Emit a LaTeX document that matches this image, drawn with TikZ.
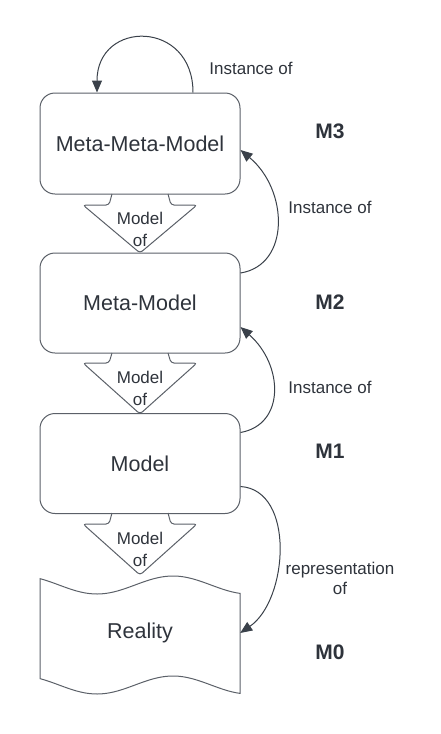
\documentclass[tikz,border=0pt]{standalone}
\usepackage{fontspec}
\setmainfont{Liberation Sans}
\usetikzlibrary{arrows.meta}
\definecolor{edgegray}{HTML}{3A414A}
\definecolor{boxgray}{HTML}{5B6068}
\definecolor{textgray}{HTML}{2E333B}
\begin{document}
\begin{tikzpicture}[x=1pt,y=-1pt]
\tikzstyle{every node}+=[inner sep=0pt,text=textgray]
\tikzstyle{levelbox}=[draw=boxgray,line width=1pt,rounded corners=15pt,minimum width=200pt,minimum height=100pt,font=\fontsize{21.5}{26}\selectfont]
\tikzstyle{notetext}=[font=\fontsize{17}{22}\selectfont,align=center]
\tikzstyle{mlabel}=[font=\fontsize{21}{25}\selectfont\bfseries]
\tikzstyle{outline}=[draw=boxgray,line width=1pt]
\tikzstyle{link}=[draw=edgegray,line width=1pt,-{Triangle[length=12pt,width=10pt]}]
\useasboundingbox (0,0) rectangle (440,734);
% levels
\node [levelbox,minimum height=101pt] (mmm) at (140,143.5) {Meta-Meta-Model};
\node [levelbox] (mm) at (140,303) {Meta-Model};
\node [levelbox] (m) at (140,463.5) {Model};
\node [minimum width=200pt,minimum height=100pt,font=\fontsize{21.5}{26}\selectfont] (real) at (140,633) {Reality};
\draw [outline] plot[domain=40:240,samples=50] (\x,{585-9*cos((\x-173)/152*360)})
  -- plot[domain=240:40,samples=50] (\x,{685-9*cos((\x-173)/152*360)}) -- cycle;
% model of
\draw [outline,rounded corners=3pt] (112,194) -- (109,205) -- (83,205) -- (140,253) -- (197,205) -- (171,205) -- (168,194);
\node [notetext] (mof1) at (140,229) {Model\\of};
\draw [outline,rounded corners=3pt] (112,353) -- (109,363) -- (83,363) -- (140,414) -- (197,363) -- (171,363) -- (168,353);
\node [notetext] (mof2) at (140,388) {Model\\of};
\draw [outline,rounded corners=3pt] (112,513) -- (109,524) -- (83,524) -- (140,575) -- (197,524) -- (171,524) -- (168,513);
\node [notetext] (mof3) at (140,549) {Model\\of};
% M labels
\node [mlabel] (m3) at (330,131) {M3};
\node [mlabel] (m2) at (330,302) {M2};
\node [mlabel] (m1) at (330,451) {M1};
\node [mlabel] (m0) at (330,652) {M0};
% instance of
\draw [link] ([xshift=53pt]mmm.north) .. controls +(0,-73) and +(0,-73) .. ([xshift=-43pt]mmm.north);
\node [notetext] (inst3) at (251,68) {Instance of};
\draw [link] ([yshift=30pt]mm.east) .. controls +(50,-8) and +(48,40) .. ([yshift=-6.5pt]mmm.east);
\node [notetext] (inst2) at (330,207) {Instance of};
\draw [link] ([yshift=31pt]m.east) .. controls +(45,-8) and +(43,38) .. ([yshift=-24pt]mm.east);
\node [notetext] (inst1) at (330,387) {Instance of};
\draw [link] ([yshift=-23pt]m.east) .. controls +(55,3.5) and +(48,-33) .. (real.east);
\node [notetext,font=\fontsize{17}{20}\selectfont] (repr) at (340,578) {representation\\of};
\end{tikzpicture}
\end{document}
